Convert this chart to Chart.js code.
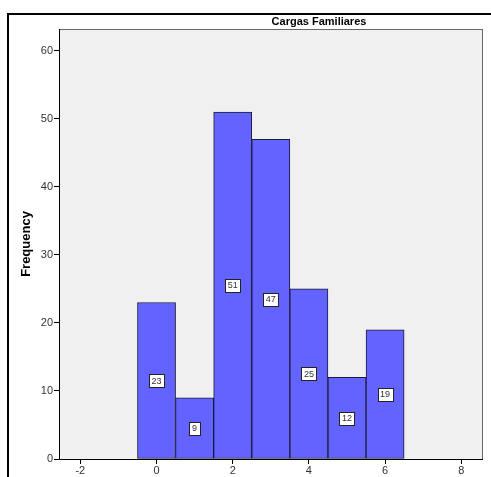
<!DOCTYPE html>
<html>
<head>
<meta charset="utf-8">
<script src="https://cdn.jsdelivr.net/npm/chart.js@4.4.1/dist/chart.umd.min.js"></script>
<style>
  body { margin: 0; background: #fff; }
  #wrap { width: 491px; height: 477px; }
</style>
</head>
<body>
<div id="wrap"><canvas id="hist" width="491" height="477"></canvas></div>
<script>
const binCenters = [0, 1, 2, 3, 4, 5, 6];
const frequencies = [23, 9, 51, 47, 25, 12, 19];
const xTicks = [-2, 0, 2, 4, 6, 8];
const yTicks = [0, 10, 20, 30, 40, 50, 60];
const chartTitle = "Cargas Familiares";
const yTitle = "Frequency";

const FONT = "'Liberation Sans', Arial, sans-serif";

// frame, title, plot background and bar value boxes
const spssLook = {
  id: "spssLook",
  beforeDraw(chart) {
    const { ctx, chartArea: a } = chart;
    ctx.save();
    ctx.fillStyle = "#fff";
    ctx.fillRect(0, 0, chart.width, chart.height);
    // outer frame
    ctx.strokeStyle = "#000";
    ctx.lineWidth = 2;
    ctx.beginPath();
    ctx.moveTo(8, chart.height + 5);
    ctx.lineTo(8, 14);
    ctx.lineTo(chart.width + 5, 14);
    ctx.stroke();
    // plot area
    ctx.fillStyle = "#f0f0f0";
    ctx.fillRect(a.left, a.top, a.right - a.left, a.bottom - a.top);
    ctx.restore();
  },
  afterDatasetsDraw(chart) {
    const { ctx, chartArea: a } = chart;
    ctx.save();
    ctx.strokeStyle = "#666";
    ctx.lineWidth = 1;
    ctx.strokeRect(a.left + 0.5, a.top + 0.5, a.right - a.left - 1, a.bottom - a.top);
    // axis lines
    ctx.strokeStyle = "#000";
    ctx.beginPath();
    ctx.moveTo(a.left + 0.5, a.top);
    ctx.lineTo(a.left + 0.5, a.bottom + 0.5);
    ctx.lineTo(a.right, a.bottom + 0.5);
    ctx.stroke();

    // title
    ctx.fillStyle = "#000";
    ctx.font = "bold 11px " + FONT;
    ctx.textAlign = "center";
    ctx.textBaseline = "middle";
    ctx.fillText(chartTitle, 319, 22);

    // y title
    ctx.save();
    ctx.translate(26, 244);
    ctx.rotate(-Math.PI / 2);
    ctx.font = "bold 13px " + FONT;
    ctx.fillText(yTitle, 0, 0);
    ctx.restore();

    // value boxes at mid height
    const meta = chart.getDatasetMeta(0);
    const ys = chart.scales.y;
    ctx.font = "9px " + FONT;
    meta.data.forEach((bar, i) => {
      const v = frequencies[i];
      const cy = ys.getPixelForValue(v / 2);
      const txt = String(v);
      const w = Math.max(11, ctx.measureText(txt).width + 5);
      const h = 13;
      const x0 = Math.round(bar.x - w / 2) + 0.5;
      const y0 = Math.round(cy - h / 2) + 0.5;
      ctx.fillStyle = "#fff";
      ctx.fillRect(x0, y0, w, h);
      ctx.strokeStyle = "#222";
      ctx.strokeRect(x0, y0, w, h);
      ctx.fillStyle = "#333";
      ctx.fillText(txt, bar.x, cy + 0.5);
    });
    ctx.restore();
  }
};

new Chart(document.getElementById("hist"), {
  type: "bar",
  data: {
    datasets: [{
      data: binCenters.map((c, i) => ({ x: c, y: frequencies[i] })),
      backgroundColor: "#6363ff",
      borderColor: "#1a1a3a",
      borderWidth: 1,
      barPercentage: 1,
      categoryPercentage: 1,
      borderSkipped: false
    }]
  },
  options: {
    responsive: false,
    animation: false,
    events: [],
    layout: { padding: { top: 29, right: 8, left: 0, bottom: 0 } },
    plugins: { legend: { display: false }, tooltip: { enabled: false } },
    scales: {
      x: {
        type: "linear",
        offset: false,
        min: -2.56,
        max: 8.57,
        afterBuildTicks(s) { s.ticks = xTicks.map(v => ({ value: v })); },
        afterFit(s) { s.height = 18; },
        grid: { drawOnChartArea: false, tickLength: 5, tickColor: "#000", offset: false },
        border: { display: false },
        ticks: {
          color: "#333",
          padding: 0,
          font: { family: FONT, size: 11 }
        }
      },
      y: {
        min: 0,
        max: 63.2,
        afterBuildTicks(s) { s.ticks = yTicks.map(v => ({ value: v })); },
        afterFit(s) { s.width = 59; },
        grid: { drawOnChartArea: false, tickLength: 5, tickColor: "#000" },
        border: { display: false },
        ticks: {
          color: "#333",
          padding: 1,
          font: { family: FONT, size: 11 }
        }
      }
    }
  },
  plugins: [spssLook]
});
</script>
</body>
</html>
